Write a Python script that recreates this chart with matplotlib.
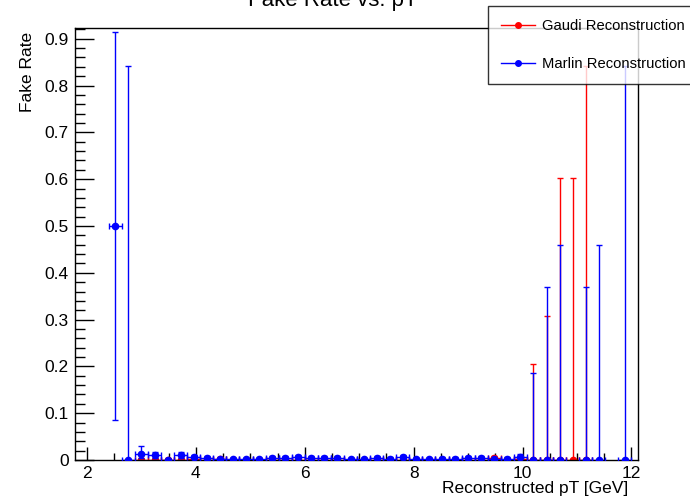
import numpy as np
import matplotlib.pyplot as plt
from matplotlib.lines import Line2D

plt.rcParams['font.family'] = ['Liberation Sans', 'DejaVu Sans']

# bin half width (GeV)
half_bin = 0.12

# Gaudi reconstruction
gaudi_x = [3.00, 3.24, 3.48, 3.72, 3.96, 4.20, 4.44, 4.68, 4.92, 5.16,
           5.40, 5.64, 5.88, 6.12, 6.36, 6.60, 6.84, 7.08, 7.32, 7.56,
           7.80, 8.04, 8.28, 8.52, 8.76, 9.00, 9.24, 9.48, 9.72, 9.96,
           10.20, 10.44, 10.68, 10.92, 11.16]
gaudi_y = [0.0, 0.0, 0.001, 0.0, 0.002, 0.001, 0.003, 0.001, 0.0, 0.001,
           0.001, 0.001, 0.0, 0.001, 0.001, 0.001, 0.001, 0.001, 0.001, 0.001,
           0.0, 0.001, 0.001, 0.0, 0.001, 0.001, 0.0, 0.004, 0.001, 0.002,
           0.0, 0.0, 0.0, 0.0, 0.0]
gaudi_lo = [0.0, 0.0, 0.001, 0.0, 0.001, 0.001, 0.002, 0.001, 0.0, 0.001,
            0.001, 0.001, 0.0, 0.001, 0.001, 0.001, 0.001, 0.001, 0.001, 0.001,
            0.0, 0.001, 0.001, 0.0, 0.001, 0.001, 0.0, 0.003, 0.001, 0.001,
            0.0, 0.0, 0.0, 0.0, 0.0]
gaudi_hi = [0.003, 0.003, 0.003, 0.003, 0.003, 0.002, 0.004, 0.002, 0.002, 0.002,
            0.002, 0.002, 0.002, 0.002, 0.002, 0.002, 0.002, 0.002, 0.002, 0.002,
            0.002, 0.002, 0.002, 0.002, 0.002, 0.002, 0.002, 0.004, 0.002, 0.003,
            0.205, 0.308, 0.602, 0.602, 0.841]

# Marlin reconstruction
marlin_x = [2.52, 2.76, 3.00, 3.24, 3.48, 3.72, 3.96, 4.20, 4.44, 4.68,
            4.92, 5.16, 5.40, 5.64, 5.88, 6.12, 6.36, 6.60, 6.84, 7.08,
            7.32, 7.56, 7.80, 8.04, 8.28, 8.52, 8.76, 9.00, 9.24, 9.48,
            9.72, 9.96, 10.20, 10.44, 10.68, 11.16, 11.40, 11.88]
marlin_y = [0.5, 0.0, 0.013, 0.010, 0.0, 0.011, 0.006, 0.005, 0.002, 0.002,
            0.002, 0.002, 0.004, 0.004, 0.006, 0.004, 0.004, 0.005, 0.002, 0.002,
            0.004, 0.003, 0.006, 0.002, 0.002, 0.003, 0.003, 0.005, 0.005, 0.002,
            0.003, 0.006, 0.0, 0.0, 0.0, 0.0, 0.0, 0.0]
marlin_lo = [0.415, 0.0, 0.008, 0.006, 0.0, 0.006, 0.003, 0.003, 0.001, 0.001,
             0.001, 0.001, 0.002, 0.002, 0.003, 0.002, 0.002, 0.003, 0.001, 0.001,
             0.002, 0.002, 0.003, 0.001, 0.001, 0.002, 0.002, 0.003, 0.003, 0.001,
             0.002, 0.003, 0.0, 0.0, 0.0, 0.0, 0.0, 0.0]
marlin_hi = [0.415, 0.841, 0.017, 0.008, 0.003, 0.007, 0.004, 0.004, 0.003, 0.003,
             0.003, 0.003, 0.004, 0.004, 0.005, 0.004, 0.004, 0.004, 0.003, 0.003,
             0.004, 0.003, 0.005, 0.003, 0.003, 0.003, 0.003, 0.004, 0.004, 0.003,
             0.003, 0.006, 0.185, 0.369, 0.459, 0.369, 0.459, 0.841]

fig = plt.figure(figsize=(6.9, 5.0), dpi=100)
ax = fig.add_axes([74.5 / 690, 1 - 460 / 500, (638 - 74.5) / 690, (460 - 28) / 500])

ax.errorbar(gaudi_x, gaudi_y, yerr=[gaudi_lo, gaudi_hi], xerr=half_bin,
            fmt='o', color='#ff0000', ms=4.5, lw=1, capsize=2.5, capthick=1, zorder=2)
ax.errorbar(marlin_x, marlin_y, yerr=[marlin_lo, marlin_hi], xerr=half_bin,
            fmt='o', color='#0000ff', ms=4.5, lw=1, capsize=2.5, capthick=1, zorder=3)

ax.set_xlim(1.77, 12.12)
ax.set_ylim(0, 0.923)
ax.set_xticks([2, 4, 6, 8, 10, 12])
ax.set_xticks(np.arange(2, 12.1, 0.5), minor=True)
ax.set_yticks(np.round(np.arange(0, 0.91, 0.1), 1))
ax.set_yticks(np.arange(0, 0.921, 0.02), minor=True)
ax.set_yticklabels(['0', '0.1', '0.2', '0.3', '0.4', '0.5', '0.6', '0.7', '0.8', '0.9'])

ax.tick_params(axis='both', which='both', direction='in', top=False, right=False,
               labelsize=12.5, width=1)
ax.tick_params(axis='x', which='major', length=9.4, pad=4)
ax.tick_params(axis='x', which='minor', length=5)
ax.tick_params(axis='y', which='major', length=13.7, pad=4)
ax.tick_params(axis='y', which='minor', length=7)
for s in ax.spines.values():
    s.set_linewidth(1)

fig.text(333 / 690, 1 - 6 / 500, 'Fake Rate vs. pT', ha='center', va='baseline', fontsize=16)
fig.text(628 / 690, 1 - 493 / 500, 'Reconstructed pT [GeV]', ha='right', va='baseline', fontsize=12.5)
fig.text(28 / 690, 1 - 32 / 500, 'Fake Rate', ha='center', va='top', rotation=90, fontsize=12.5)

handles = [Line2D([], [], color='#ff0000', marker='o', ms=4, lw=1),
           Line2D([], [], color='#0000ff', marker='o', ms=4, lw=1)]
labels = ['Gaudi Reconstruction', 'Marlin Reconstruction']
leg = fig.legend(handles, labels, loc='upper left',
                 bbox_to_anchor=(488 / 690, 1 - 6 / 500, 210 / 690, 0.0),
                 mode='expand', fontsize=10.6, frameon=True, fancybox=False,
                 edgecolor='black', handlelength=2.3, handletextpad=0.5,
                 labelspacing=1.6, borderpad=0.9, borderaxespad=0)
leg.get_frame().set_linewidth(1)

fig.savefig('out.png', dpi=100)
